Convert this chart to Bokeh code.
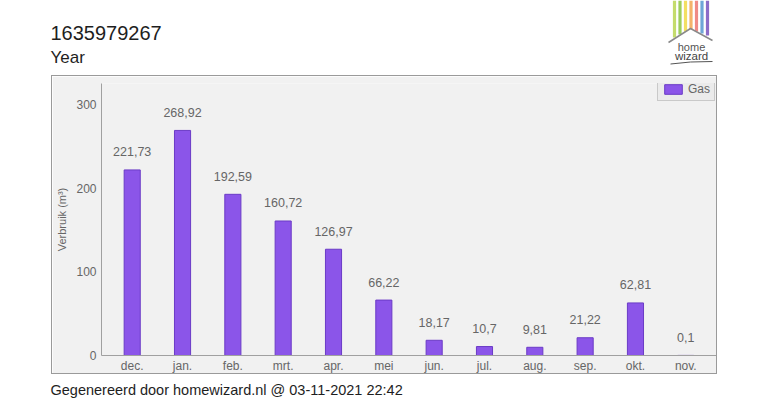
from bokeh.plotting import figure
from bokeh.models import (ColumnDataSource, Range1d, FactorRange, Legend, LegendItem, Spacer)
from bokeh.layouts import column, row
from bokeh.embed import file_html
from bokeh.resources import INLINE
from bokeh.core.properties import value

# ---- data ----
months = ["dec.", "jan.", "feb.", "mrt.", "apr.", "mei", "jun.", "jul.", "aug.", "sep.", "okt.", "nov."]
gas = [221.73, 268.92, 192.59, 160.72, 126.97, 66.22, 18.17, 10.7, 9.81, 21.22, 62.81, 0.1]
gas_labels = [f"{v:g}".replace(".", ",") for v in gas]
y_ticks = [0, 100, 200, 300]
title_text = "1635979267"
subtitle_text = "Year"
footer_text = "Gegenereerd door homewizard.nl @ 03-11-2021 22:42"
series_name = "Gas"
y_label = "Verbruik (m³)"
logo_colors = ["#c4dc6c", "#9ccd5a", "#f3df62", "#f4b36a", "#ef8a86", "#6fa6d8", "#8c6cc8"]

FONT = "Liberation Sans"
BG = "#f1f1f1"
BAR = "#8b55e9"
BAR_LINE = "#6b3bc6"
TXT = "#666666"
DARK = "#1e1e1e"


def blank(width, height):
    f = figure(width=width, height=height, output_backend="svg", toolbar_location=None,
               title=None,
               x_range=Range1d(0, width), y_range=Range1d(height, 0),
               min_border=0, min_border_left=0, min_border_right=0,
               min_border_top=0, min_border_bottom=0)
    f.axis.visible = False
    f.grid.visible = False
    f.outline_line_color = None
    f.border_fill_color = "white"
    f.background_fill_color = "white"
    return f


# ---- header (titles + logo) ----
head = blank(767, 75)
head.text(x=[50], y=[32.5], text=[title_text], text_font=value(FONT), text_font_size="20px",
          text_color=DARK, text_baseline="middle")
head.text(x=[50], y=[56.5], text=[subtitle_text], text_font=value(FONT), text_font_size="17px",
          text_color=DARK, text_baseline="middle")
# logo (decoration)
sx = [674, 679.5, 685, 690.5, 696, 701.5, 707]
sb = [37, 34, 31, 29, 31, 33, 35]
head.quad(left=[x - 1.6 for x in sx], right=[x + 1.6 for x in sx], top=[0] * 7, bottom=sb,
          fill_color=logo_colors, line_color=None)
head.line(x=[668, 690, 712], y=[42, 28, 40], line_color="#8a8a8a", line_width=1.5)
head.text(x=[691], y=[46], text=["home"], text_font=value(FONT), text_font_size="11px",
          text_color="#555555", text_align="center", text_baseline="middle")
head.text(x=[691], y=[55.5], text=["wizard"], text_font=value(FONT), text_font_size="11.5px",
          text_color="#444444", text_align="center", text_baseline="middle")
head.line(x=[670, 690, 712], y=[63.5, 61.5, 61], line_color="#555555", line_width=1)

# ---- main chart ----
src = ColumnDataSource(dict(m=months, v=gas, lab=gas_labels))

p = figure(frame_width=613, frame_height=270, output_backend="svg", toolbar_location=None,
           title=None,
           x_range=FactorRange(*months, range_padding=0.11, range_padding_units="absolute"),
           y_range=Range1d(0, 325),
           min_border_left=49, min_border_right=2, min_border_top=7, min_border_bottom=20,
           styles={"border": "1px solid #9a9a9a"})
p.border_fill_color = BG
p.background_fill_color = BG
p.outline_line_color = None
p.xgrid.visible = False
p.ygrid.visible = False

r = p.vbar(x="m", top="v", width=0.32, source=src, fill_color=BAR, line_color=BAR_LINE, line_width=1)
p.text(x="m", y="v", text="lab", source=src, text_align="center", text_baseline="middle",
       y_offset=-18, text_font=value(FONT), text_font_size="12.5px", text_color=TXT)

for ax in (p.xaxis[0], p.yaxis[0]):
    ax.axis_line_color = "#a0a0a0"
    ax.major_tick_line_color = None
    ax.minor_tick_line_color = None
    ax.major_tick_out = 0
    ax.major_tick_in = 0
    ax.minor_tick_out = 0
    ax.minor_tick_in = 0
    ax.major_label_text_font = FONT
    ax.major_label_text_color = TXT
    ax.major_label_text_font_size = "12px"
p.xaxis.major_label_standoff = 3
p.yaxis.ticker = y_ticks
p.yaxis.major_label_standoff = 5
p.yaxis.axis_label = y_label
p.yaxis.axis_label_text_font = FONT
p.yaxis.axis_label_text_font_style = "normal"
p.yaxis.axis_label_text_font_size = "11px"
p.yaxis.axis_label_text_color = TXT
p.yaxis.axis_label_standoff = 5

leg = Legend(items=[LegendItem(label=series_name, renderers=[r])],
             location=(556, 254), orientation="vertical",
             label_text_font=FONT, label_text_font_size="12px", label_text_color=TXT,
             glyph_width=22, glyph_height=12, padding=4, margin=0, spacing=0,
             label_standoff=4, label_height=12,
             border_line_color="#a8a8a8", background_fill_color="#ebebeb", background_fill_alpha=1)
p.add_layout(leg, "center")

# ---- footer ----
foot = blank(767, 26)
foot.text(x=[50], y=[15.3], text=[footer_text], text_font=value(FONT), text_font_size="14.5px",
          text_color=DARK, text_baseline="middle")

layout = column(head, row(Spacer(width=51, height=10), p), foot)
open("out.html", "w").write(file_html(layout, INLINE))
